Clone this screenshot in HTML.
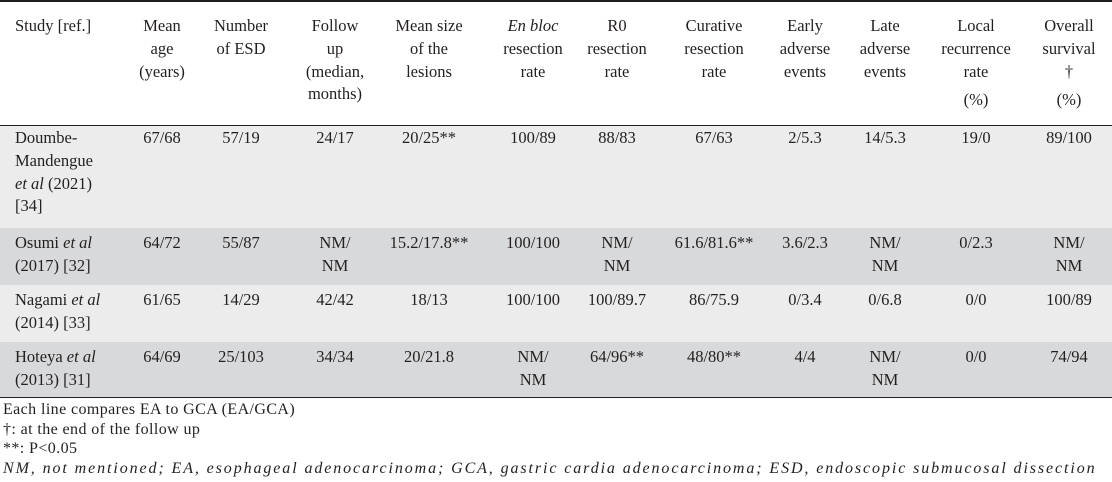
<!DOCTYPE html>
<html><head><meta charset="utf-8"><style>
body{margin:0;width:1112px;height:482px;background:#fff;position:relative;overflow:hidden;font-family:"Liberation Serif",serif;font-size:16.5px;color:#231f20}
.c{position:absolute;line-height:22.8px;text-align:center;white-space:nowrap;transform:translateX(-50%)}
.l{position:absolute;line-height:22.8px;white-space:nowrap}
.bg{position:absolute;left:0;width:1112px}
.hr{position:absolute;left:0;width:1112px;height:1.5px;background:#231f20}
.f{position:absolute;left:3px;line-height:19.5px;font-size:16px;white-space:nowrap;letter-spacing:0.4px}
i{font-style:italic}
</style></head><body>
<div class="bg" style="top:126px;height:102px;background:#ececec"></div>
<div class="bg" style="top:228px;height:57px;background:#d8d9da"></div>
<div class="bg" style="top:285px;height:57px;background:#ececec"></div>
<div class="bg" style="top:342px;height:55px;background:#d8d9da"></div>
<div class="hr" style="top:0"></div>
<div class="hr" style="top:124.5px"></div>
<div class="hr" style="top:396.5px"></div>

<div>
<div class="l" style="left:15px;top:15px">Study [ref.]</div>
<div class="c" style="left:162px;top:15px">Mean<br>age<br>(years)</div>
<div class="c" style="left:241px;top:15px">Number<br>of ESD</div>
<div class="c" style="left:335px;top:15px">Follow<br>up<br>(median,<br>months)</div>
<div class="c" style="left:429px;top:15px">Mean size<br>of the<br>lesions</div>
<div class="c" style="left:533px;top:15px"><i>En bloc</i><br>resection<br>rate</div>
<div class="c" style="left:617px;top:15px">R0<br>resection<br>rate</div>
<div class="c" style="left:714px;top:15px">Curative<br>resection<br>rate</div>
<div class="c" style="left:805px;top:15px">Early<br>adverse<br>events</div>
<div class="c" style="left:885px;top:15px">Late<br>adverse<br>events</div>
<div class="c" style="left:976px;top:15px">Local<br>recurrence<br>rate</div>
<div class="c" style="left:976px;top:89px">(%)</div>
<div class="c" style="left:1069px;top:15px">Overall<br>survival<br>†</div>
<div class="c" style="left:1069px;top:89px">(%)</div>
</div>

<div>
<div class="l" style="left:15px;top:127px">Doumbe-<br>Mandengue<br><i>et al</i> (2021)<br>[34]</div>
<div class="c" style="left:162px;top:127px">67/68</div>
<div class="c" style="left:241px;top:127px">57/19</div>
<div class="c" style="left:335px;top:127px">24/17</div>
<div class="c" style="left:429px;top:127px">20/25**</div>
<div class="c" style="left:533px;top:127px">100/89</div>
<div class="c" style="left:617px;top:127px">88/83</div>
<div class="c" style="left:714px;top:127px">67/63</div>
<div class="c" style="left:805px;top:127px">2/5.3</div>
<div class="c" style="left:885px;top:127px">14/5.3</div>
<div class="c" style="left:976px;top:127px">19/0</div>
<div class="c" style="left:1069px;top:127px">89/100</div>
</div>

<div>
<div class="l" style="left:15px;top:232px">Osumi <i>et al</i><br>(2017) [32]</div>
<div class="c" style="left:162px;top:232px">64/72</div>
<div class="c" style="left:241px;top:232px">55/87</div>
<div class="c" style="left:335px;top:232px">NM/<br>NM</div>
<div class="c" style="left:429px;top:232px">15.2/17.8**</div>
<div class="c" style="left:533px;top:232px">100/100</div>
<div class="c" style="left:617px;top:232px">NM/<br>NM</div>
<div class="c" style="left:714px;top:232px">61.6/81.6**</div>
<div class="c" style="left:805px;top:232px">3.6/2.3</div>
<div class="c" style="left:885px;top:232px">NM/<br>NM</div>
<div class="c" style="left:976px;top:232px">0/2.3</div>
<div class="c" style="left:1069px;top:232px">NM/<br>NM</div>
</div>

<div>
<div class="l" style="left:15px;top:289px">Nagami <i>et al</i><br>(2014) [33]</div>
<div class="c" style="left:162px;top:289px">61/65</div>
<div class="c" style="left:241px;top:289px">14/29</div>
<div class="c" style="left:335px;top:289px">42/42</div>
<div class="c" style="left:429px;top:289px">18/13</div>
<div class="c" style="left:533px;top:289px">100/100</div>
<div class="c" style="left:617px;top:289px">100/89.7</div>
<div class="c" style="left:714px;top:289px">86/75.9</div>
<div class="c" style="left:805px;top:289px">0/3.4</div>
<div class="c" style="left:885px;top:289px">0/6.8</div>
<div class="c" style="left:976px;top:289px">0/0</div>
<div class="c" style="left:1069px;top:289px">100/89</div>
</div>

<div>
<div class="l" style="left:15px;top:346px">Hoteya <i>et al</i><br>(2013) [31]</div>
<div class="c" style="left:162px;top:346px">64/69</div>
<div class="c" style="left:241px;top:346px">25/103</div>
<div class="c" style="left:335px;top:346px">34/34</div>
<div class="c" style="left:429px;top:346px">20/21.8</div>
<div class="c" style="left:533px;top:346px">NM/<br>NM</div>
<div class="c" style="left:617px;top:346px">64/96**</div>
<div class="c" style="left:714px;top:346px">48/80**</div>
<div class="c" style="left:805px;top:346px">4/4</div>
<div class="c" style="left:885px;top:346px">NM/<br>NM</div>
<div class="c" style="left:976px;top:346px">0/0</div>
<div class="c" style="left:1069px;top:346px">74/94</div>
</div>

<div class="f" style="top:400px">Each line compares EA to GCA (EA/GCA)</div>
<div class="f" style="top:420px">†: at the end of the follow up</div>
<div class="f" style="top:439px">**: P&lt;0.05</div>
<div class="f" style="top:459px;letter-spacing:1.9px"><i>NM, not mentioned; EA, esophageal adenocarcinoma; GCA, gastric cardia adenocarcinoma; ESD, endoscopic submucosal dissection</i></div>
</body></html>
